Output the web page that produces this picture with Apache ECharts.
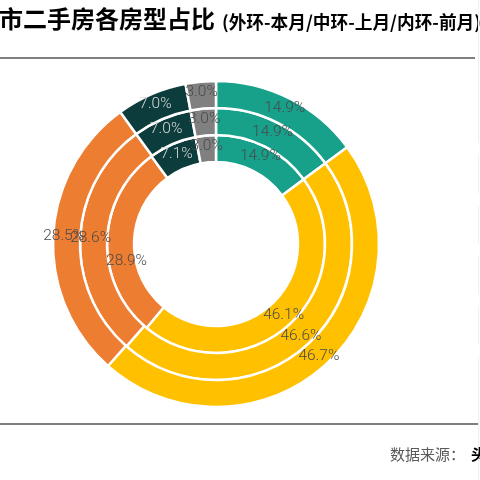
<!DOCTYPE html>
<html>
<head>
<meta charset="utf-8">
<script src="https://cdn.jsdelivr.net/npm/echarts@6/dist/echarts.min.js"></script>
<style>html,body{margin:0;padding:0;background:#fff;}#c{width:480px;height:480px;}</style>
</head>
<body>
<div id="c"></div>
<script>
var categories = ['一居', '二居', '三居', '四居', '五居及以上'];
var colors = ['#17A08A', '#FFC000', '#ED7D31', '#0D3C3D', '#808080'];
var thisMonth = [14.9, 46.7, 28.5, 7.0, 3.0];   // outer ring
var lastMonth = [14.9, 46.6, 28.6, 7.0, 3.0];   // middle ring
var prevMonth = [14.9, 46.1, 28.9, 7.1, 3.0];   // inner ring
var titleText = '市二手房各房型占比';
var subTitleText = '(外环-本月/中环-上月/内环-前月)';
var sourceLabel = '数据来源：';
var sourceName = '头';

var labelColors = ['#4A4A4A', '#4A4A4A', '#4A4A4A', '#D9D9D9', '#4A4A4A'];

function buildData(values, offsets) {
  return values.map(function (v, i) {
    var lbl = { color: labelColors[i] };
    if (offsets && offsets[i]) lbl.offset = offsets[i];
    return {
      name: categories[i],
      value: v,
      itemStyle: { color: colors[i] },
      label: lbl
    };
  });
}

function ring(name, values, radius, offsets) {
  return {
    type: 'pie',
    name: name,
    center: [216, 244],
    radius: radius,
    startAngle: 90,
    clockwise: true,
    avoidLabelOverlap: false,
    silent: true,
    animation: false,
    itemStyle: { borderColor: '#ffffff', borderWidth: 2.5 },
    label: {
      show: true,
      position: 'inside',
      fontFamily: 'Roboto',
      fontWeight: 300,
      fontSize: 15.5,
      formatter: function (p) { return p.value.toFixed(1) + '%'; }
    },
    labelLayout: { hideOverlap: false },
    labelLine: { show: false },
    data: buildData(values, offsets)
  };
}

var chart = echarts.init(document.getElementById('c'), null, { renderer: 'canvas' });
chart.setOption({
  backgroundColor: '#ffffff',
  animation: false,
  legend: {
    orient: 'vertical',
    left: 473,
    top: 137,
    itemWidth: 7,
    itemHeight: 11,
    itemGap: 36.5,
    icon: 'rect',
    data: categories,
    textStyle: { fontSize: 14, color: '#595959' }
  },
  graphic: [
    { type: 'text', left: -1, top: 7, style: { text: titleText, font: 'bold 24px "Noto Sans CJK SC"', fill: '#000000' } },
    { type: 'text', left: 222, top: 13, style: { text: subTitleText, font: 'bold 17.7px "Noto Sans CJK SC"', fill: '#000000' } },
    { type: 'line', shape: { x1: 0, y1: 58, x2: 475, y2: 58 }, style: { stroke: '#7F7F7F', lineWidth: 2 } },
    { type: 'line', shape: { x1: 0, y1: 424, x2: 478, y2: 424 }, style: { stroke: '#7F7F7F', lineWidth: 2 } },
    { type: 'line', shape: { x1: 478.5, y1: 0, x2: 478.5, y2: 480 }, style: { stroke: '#F0F0F0', lineWidth: 1 } },
    { type: 'text', left: 390, top: 447, style: { text: sourceLabel, font: '15px "Noto Sans CJK SC"', fill: '#595959' } },
    { type: 'text', left: 471, top: 447, style: { text: sourceName, font: 'bold 15px "Noto Sans CJK SC"', fill: '#000000' } }
  ],
  series: [
    ring('前月', prevMonth, [82, 109], [null, null, [9, 20], null, null]),
    ring('上月', lastMonth, [109, 136]),
    ring('本月', thisMonth, [136, 163])
  ]
});
</script>
</body>
</html>
